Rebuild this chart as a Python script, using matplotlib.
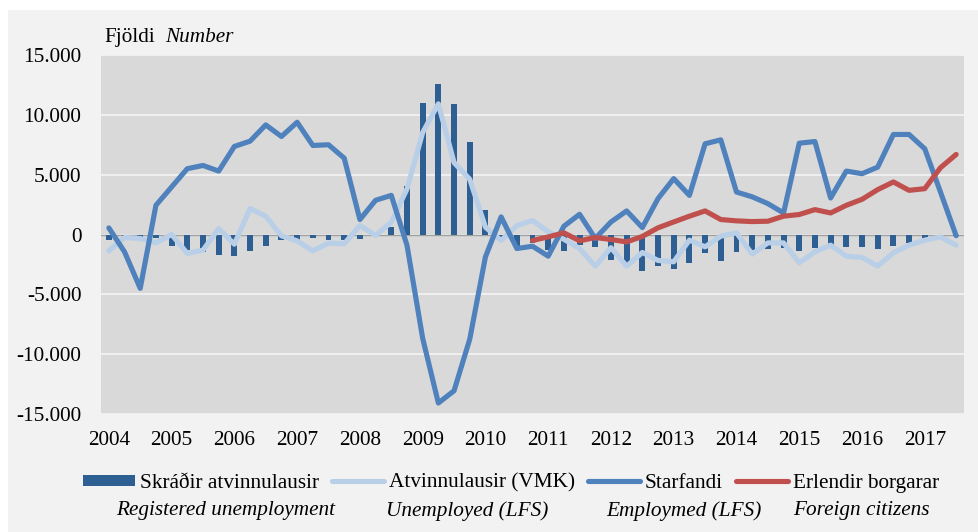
import matplotlib
matplotlib.use("Agg")
import matplotlib.pyplot as plt
import numpy as np
from matplotlib.patches import Rectangle, Patch
from matplotlib.lines import Line2D

# ---- data (quarterly, 2004Q1 - 2017Q3, change from a year earlier) ----
years = list(range(2004, 2018))

registered_unemployment = [
    -470, -250, -250, -330, -970, -1310, -1500, -1720, -1800, -1340,
    -1000, -500, -440, -330, -490, -490, -400, -100, 610, 4080,
    11030, 12610, 10890, 7690, 2080, -200, -1050, -720, -1300, -1360,
    -890, -1030, -2140, -2750, -3030, -2640, -2920, -2360, -1580, -2200,
    -1460, -1280, -1250, -1100, -1390, -1110, -930, -1030, -1080, -1170,
    -940, -720, -300, -150, -100,
]

unemployed_lfs = [
    -1370, -250, -330, -700, 0, -1580, -1310, 500, -810, 2170,
    1530, -110, -530, -1370, -720, -770, 750, -80, 1030, 3800,
    8520, 10920, 6010, 4620, 610, -500, 750, 1170, 230, -400,
    -1170, -2650, -1100, -2650, -1500, -2170, -2280, -470, -1030, -140,
    140, -1640, -700, -700, -2360, -1450, -890, -1810, -1920, -2640,
    -1530, -890, -470, -200, -890,
]

employed_lfs = [
    550, -1450, -4500, 2440, 3970, 5500, 5770, 5300, 7360, 7800,
    9160, 8190, 9380, 7440, 7500, 6380, 1250, 2860, 3270, -890,
    -8670, -14080, -13060, -8750, -1870, 1470, -1170, -980, -1810, 690,
    1690, -330, 1050, 1970, 580, 3000, 4670, 3270, 7580, 7910,
    3550, 3150, 2580, 1800, 7630, 7770, 3050, 5300, 5080, 5630,
    8360, 8360, 7160, 3550, -100,
]

# starts 2010Q4
foreign_citizens = [
    -500, -200, 140, -530, -250, -420, -620, -160, 560, 1050,
    1530, 1970, 1250, 1140, 1080, 1110, 1530, 1670, 2080, 1800,
    2440, 2940, 3750, 4390, 3690, 3830, 5580, 6690,
]

labels_is = ["Skráðir atvinnulausir", "Atvinnulausir (VMK)", "Starfandi", "Erlendir borgarar"]
labels_en = ["Registered unemployment", "Unemployed (LFS)", "Employmed (LFS)", "Foreign citizens"]

# ---- styling ----
plt.rcParams['font.family'] = ['Liberation Serif', 'DejaVu Serif']
FS = 15.3
c_bar = '#2E5F93'
c_light = '#B9CFE8'
c_emp = '#4F81BD'
c_red = '#C0504D'

W, H = 979, 532
fig = plt.figure(figsize=(W / 100, H / 100), dpi=100)
fig.patch.set_facecolor('white')
fig.patches.append(Rectangle((8 / W, 0), 1 - 8 / W, 1 - 10 / H, transform=fig.transFigure,
                             facecolor='#F2F2F2', edgecolor='none', zorder=-10))

ax = fig.add_axes([101 / W, (H - 414) / H, 863 / W, 359 / H])
ax.set_facecolor('#D9D9D9')
for s in ax.spines.values():
    s.set_visible(False)

n = len(employed_lfs)
x = np.arange(n)
x_red = np.arange(n - len(foreign_citizens), n)

ax.bar(x, registered_unemployment, width=0.38, color=c_bar, zorder=2)
lw = 3.7
kw = dict(solid_joinstyle='round', solid_capstyle='round')
ax.plot(x, unemployed_lfs, color=c_light, lw=lw, zorder=3, **kw)
ax.plot(x, employed_lfs, color=c_emp, lw=lw, zorder=4, **kw)
ax.plot(x_red, foreign_citizens, color=c_red, lw=lw, zorder=5, **kw)

ax.axhline(0, color='#A0A0A0', lw=1.0, zorder=1.5)

ax.set_xlim(-0.5, n - 0.5)
ax.set_ylim(-15000, 15000)
yt = list(range(-15000, 15001, 5000))
ax.set_yticks(yt)
ax.set_yticklabels([f"{v:,}".replace(',', '.') for v in yt], fontsize=FS)
ax.yaxis.grid(True, color='#F2F2F2', lw=1.3, zorder=0)
ax.set_axisbelow(True)

ax.set_xticks(np.arange(0, n, 4))
ax.set_xticklabels([str(y) for y in years], fontsize=FS)
ax.tick_params(axis='both', length=0)
ax.tick_params(axis='y', pad=14.2)
ax.tick_params(axis='x', pad=12.5)

# title "Fjöldi  Number"
fig.text(104 / W, 1 - 42 / H, "Fjöldi", fontsize=FS, va='baseline', ha='left')
fig.text(165 / W, 1 - 42 / H, "Number", fontsize=FS, va='baseline', ha='left', style='italic')

# legend
handles = [
    Patch(facecolor=c_bar, edgecolor='none'),
    Line2D([], [], color=c_light, lw=lw, solid_capstyle='round'),
    Line2D([], [], color=c_emp, lw=lw, solid_capstyle='round'),
    Line2D([], [], color=c_red, lw=lw, solid_capstyle='round'),
]
leg = fig.legend(handles, labels_is, loc='center', bbox_to_anchor=(511 / W, 1 - 483 / H),
                 ncol=4, frameon=False, fontsize=FS, handlelength=2.45, handleheight=0.42,
                 handletextpad=0.2, columnspacing=0.64, borderpad=0, borderaxespad=0)

en_centers = [226, 467, 684, 861]
for cx, t in zip(en_centers, labels_en):
    fig.text(cx / W, 1 - 511 / H, t, fontsize=FS, ha='center', va='center', style='italic')

fig.savefig('out.png', dpi=100, facecolor=fig.get_facecolor())
